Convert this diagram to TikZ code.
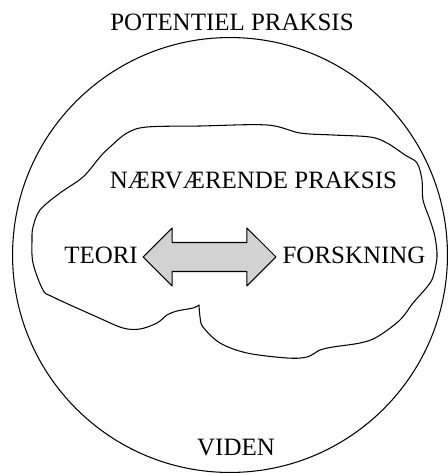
\documentclass[tikz,border=0pt]{standalone}
\usepackage{fontspec}
\setmainfont{Liberation Serif}
\usetikzlibrary{shapes.arrows}

\begin{document}
\begin{tikzpicture}[x=0.02cm, y=-0.02cm, line cap=round, line join=round,
	line width=0.6pt,
	label/.style={inner sep=0pt, font=\fontsize{14.2}{16}\selectfont}]

\useasboundingbox (0,0) rectangle (447,475);

% ==== outer circle: potential practice ====
\draw (230,255) circle (4.35cm);
\node[label] (potentiel) at (232,22) {POTENTIEL PRAKSIS};
\node[label] (viden) at (236,448) {VIDEN};

% ==== inner blob: present practice ====
\draw plot[smooth, tension=0.55] coordinates {
	(199,305) (200,317) (203,327) (220,343) (247,353) (287,358) (307,357)
	(320,350) (333,347) (360,343) (377,337) (400,320) (413,303) (427,287)
	(433,277) (437,257) (435,237) (430,220) (423,200) (422,180) (417,163)
	(405,155) (387,143) (370,137) (333,135) (300,133) (267,125) (200,126)
	(147,127) (127,133) (110,147) (100,157) (83,177) (60,193) (40,210)
	(33,227) (32,240) (33,263) (43,290) (53,297) (97,317) (123,328)
	(140,329) (157,323) (167,315) (177,311) (193,308) (199,305)};
\node[label] (naervaerende) at (253.5,180) {NÆRVÆRENDE PRAKSIS};

% ==== theory <-> research ====
\node[label] (teori) at (101,255) {TEORI};
\node[label] (forskning) at (354,255) {FORSKNING};
\node[double arrow, draw, fill=gray!35, inner sep=0.28cm,
	minimum height=2.66cm, double arrow head extend=0.29cm] (pil) at (209.5,257) {};

\end{tikzpicture}
\end{document}
